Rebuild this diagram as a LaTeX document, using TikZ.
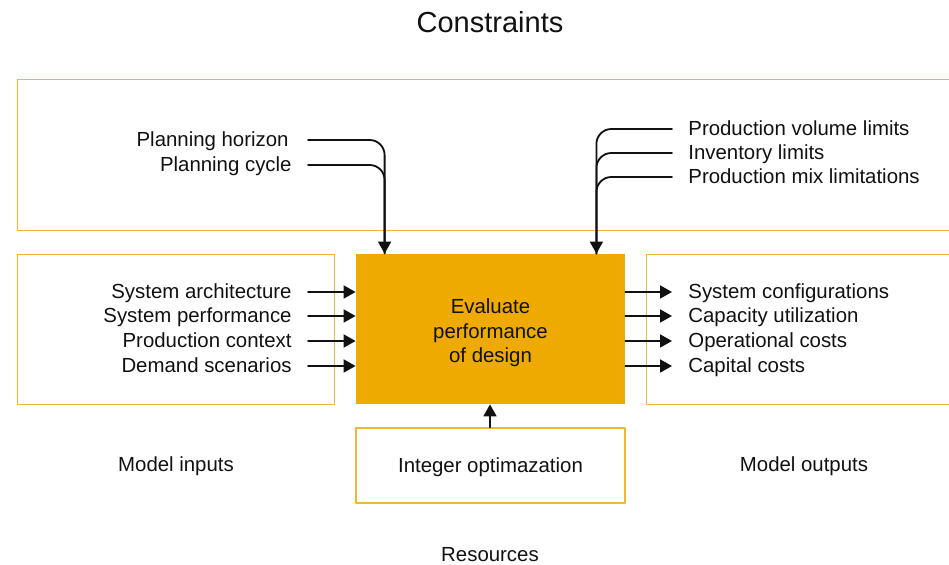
\documentclass[tikz,border=0pt]{standalone}
\usepackage{fontspec}
\setmainfont{Liberation Sans}
\usetikzlibrary{arrows.meta,positioning,calc}
\definecolor{gold}{HTML}{EEAA00}
\definecolor{goldline}{HTML}{EDB73A}
\definecolor{ink}{HTML}{111111}
\tikzset{
    every picture/.style={line cap=round,line join=round},
    framebox/.style={draw=goldline,line width=0.55pt,inner sep=0pt,anchor=north west},
    evalbox/.style={fill=gold,draw=none,inner sep=0pt,
      minimum width=134.5pt,minimum height=75pt},
    optbox/.style={draw=goldline,line width=0.55pt,fill=white,inner sep=0pt,
      minimum width=134.5pt,minimum height=37.5pt,text height=8pt,text depth=1pt,
      font=\fontsize{10.2}{12.25}\selectfont,text=ink},
    itemtext/.style={inner sep=0pt,text height=8pt,text depth=1pt,
      font=\fontsize{10.2}{12.25}\selectfont,text=ink},
    flowarrow/.style={-{Triangle[length=6pt,width=6.5pt]},draw=ink,line width=0.9pt},
    flowline/.style={draw=ink,line width=0.9pt}
}

\begin{document}
\begin{tikzpicture}[x=0.5pt,y=-0.5pt]
  \useasboundingbox (0,0) rectangle (949,565);
  % frames
  \node[framebox,minimum width=467pt,minimum height=75.5pt] (cons) at (17,79) {};
  \node[framebox,minimum width=158.5pt,minimum height=75pt] (inbox) at (17,254) {};
  \node[framebox,minimum width=153pt,minimum height=75pt] (outbox) at (646,254) {};
  \node[evalbox] (eval) at (490.5,329) {};
  \node[itemtext,align=center,text height=,text depth=] (evaltxt) at ([yshift=-2pt]eval.center) {Evaluate\\performance\\of design};
  \node[optbox] (opt) at (490.5,465.5) {Integer optimazation};
  % titles
  \node[itemtext,font=\fontsize{14.5}{16}\selectfont,text height=10.4pt,text depth=0pt] (ctitle) at (490,22) {Constraints};
  \node[itemtext] (intitle) at (176,465) {Model inputs};
  \node[itemtext] (outtitle) at (804,465) {Model outputs};
  \node[itemtext] (restitle) at (490,555) {Resources};
  % inputs
  \node[itemtext,anchor=east] (i1) at (292,292) {System architecture};
  \node[itemtext,anchor=east] (i2) at (292,316) {System performance};
  \node[itemtext,anchor=east] (i3) at (292,341) {Production context};
  \node[itemtext,anchor=east] (i4) at (292,366) {Demand scenarios};
  \draw[flowarrow] ([xshift=8pt]i1.east) -- (i1.east -| eval.west);
  \draw[flowarrow] ([xshift=8pt]i2.east) -- (i2.east -| eval.west);
  \draw[flowarrow] ([xshift=8pt]i3.east) -- (i3.east -| eval.west);
  \draw[flowarrow] ([xshift=8pt]i4.east) -- (i4.east -| eval.west);
  % outputs
  \node[itemtext,anchor=west] (o1) at (688,292) {System configurations};
  \node[itemtext,anchor=west] (o2) at (688,316) {Capacity utilization};
  \node[itemtext,anchor=west] (o3) at (688,341) {Operational costs};
  \node[itemtext,anchor=west] (o4) at (688,366) {Capital costs};
  \draw[flowarrow] (o1.west -| eval.east) -- ([xshift=-8pt]o1.west);
  \draw[flowarrow] (o2.west -| eval.east) -- ([xshift=-8pt]o2.west);
  \draw[flowarrow] (o3.west -| eval.east) -- ([xshift=-8pt]o3.west);
  \draw[flowarrow] (o4.west -| eval.east) -- ([xshift=-8pt]o4.west);
  % constraints
  \node[itemtext,anchor=east] (ph) at (289,140) {Planning horizon};
  \node[itemtext,anchor=east] (pc) at (292,165) {Planning cycle};
  \coordinate (tl) at ([xshift=14.5pt]eval.north west);
  \draw[flowarrow,rounded corners=7.5pt] ([xshift=9.5pt]ph.east) -| (tl);
  \draw[flowline,rounded corners=7.5pt] ([xshift=8pt]pc.east) -| (tl);
  \node[itemtext,anchor=west] (pv) at (688,129) {Production volume limits};
  \node[itemtext,anchor=west] (il) at (688,153) {Inventory limits};
  \node[itemtext,anchor=west] (pm) at (688,177) {Production mix limitations};
  \coordinate (tr) at ([xshift=-14.5pt]eval.north east);
  \draw[flowarrow,rounded corners=7.5pt] ([xshift=-8pt]pv.west) -| (tr);
  \draw[flowline,rounded corners=7.5pt] ([xshift=-8pt]il.west) -| (tr);
  \draw[flowline,rounded corners=7.5pt] ([xshift=-8pt]pm.west) -| (tr);
  % resources
  \draw[flowarrow] ([xshift=-0.25pt]opt.north) -- ([xshift=-0.25pt]eval.south);
\end{tikzpicture}
\end{document}
